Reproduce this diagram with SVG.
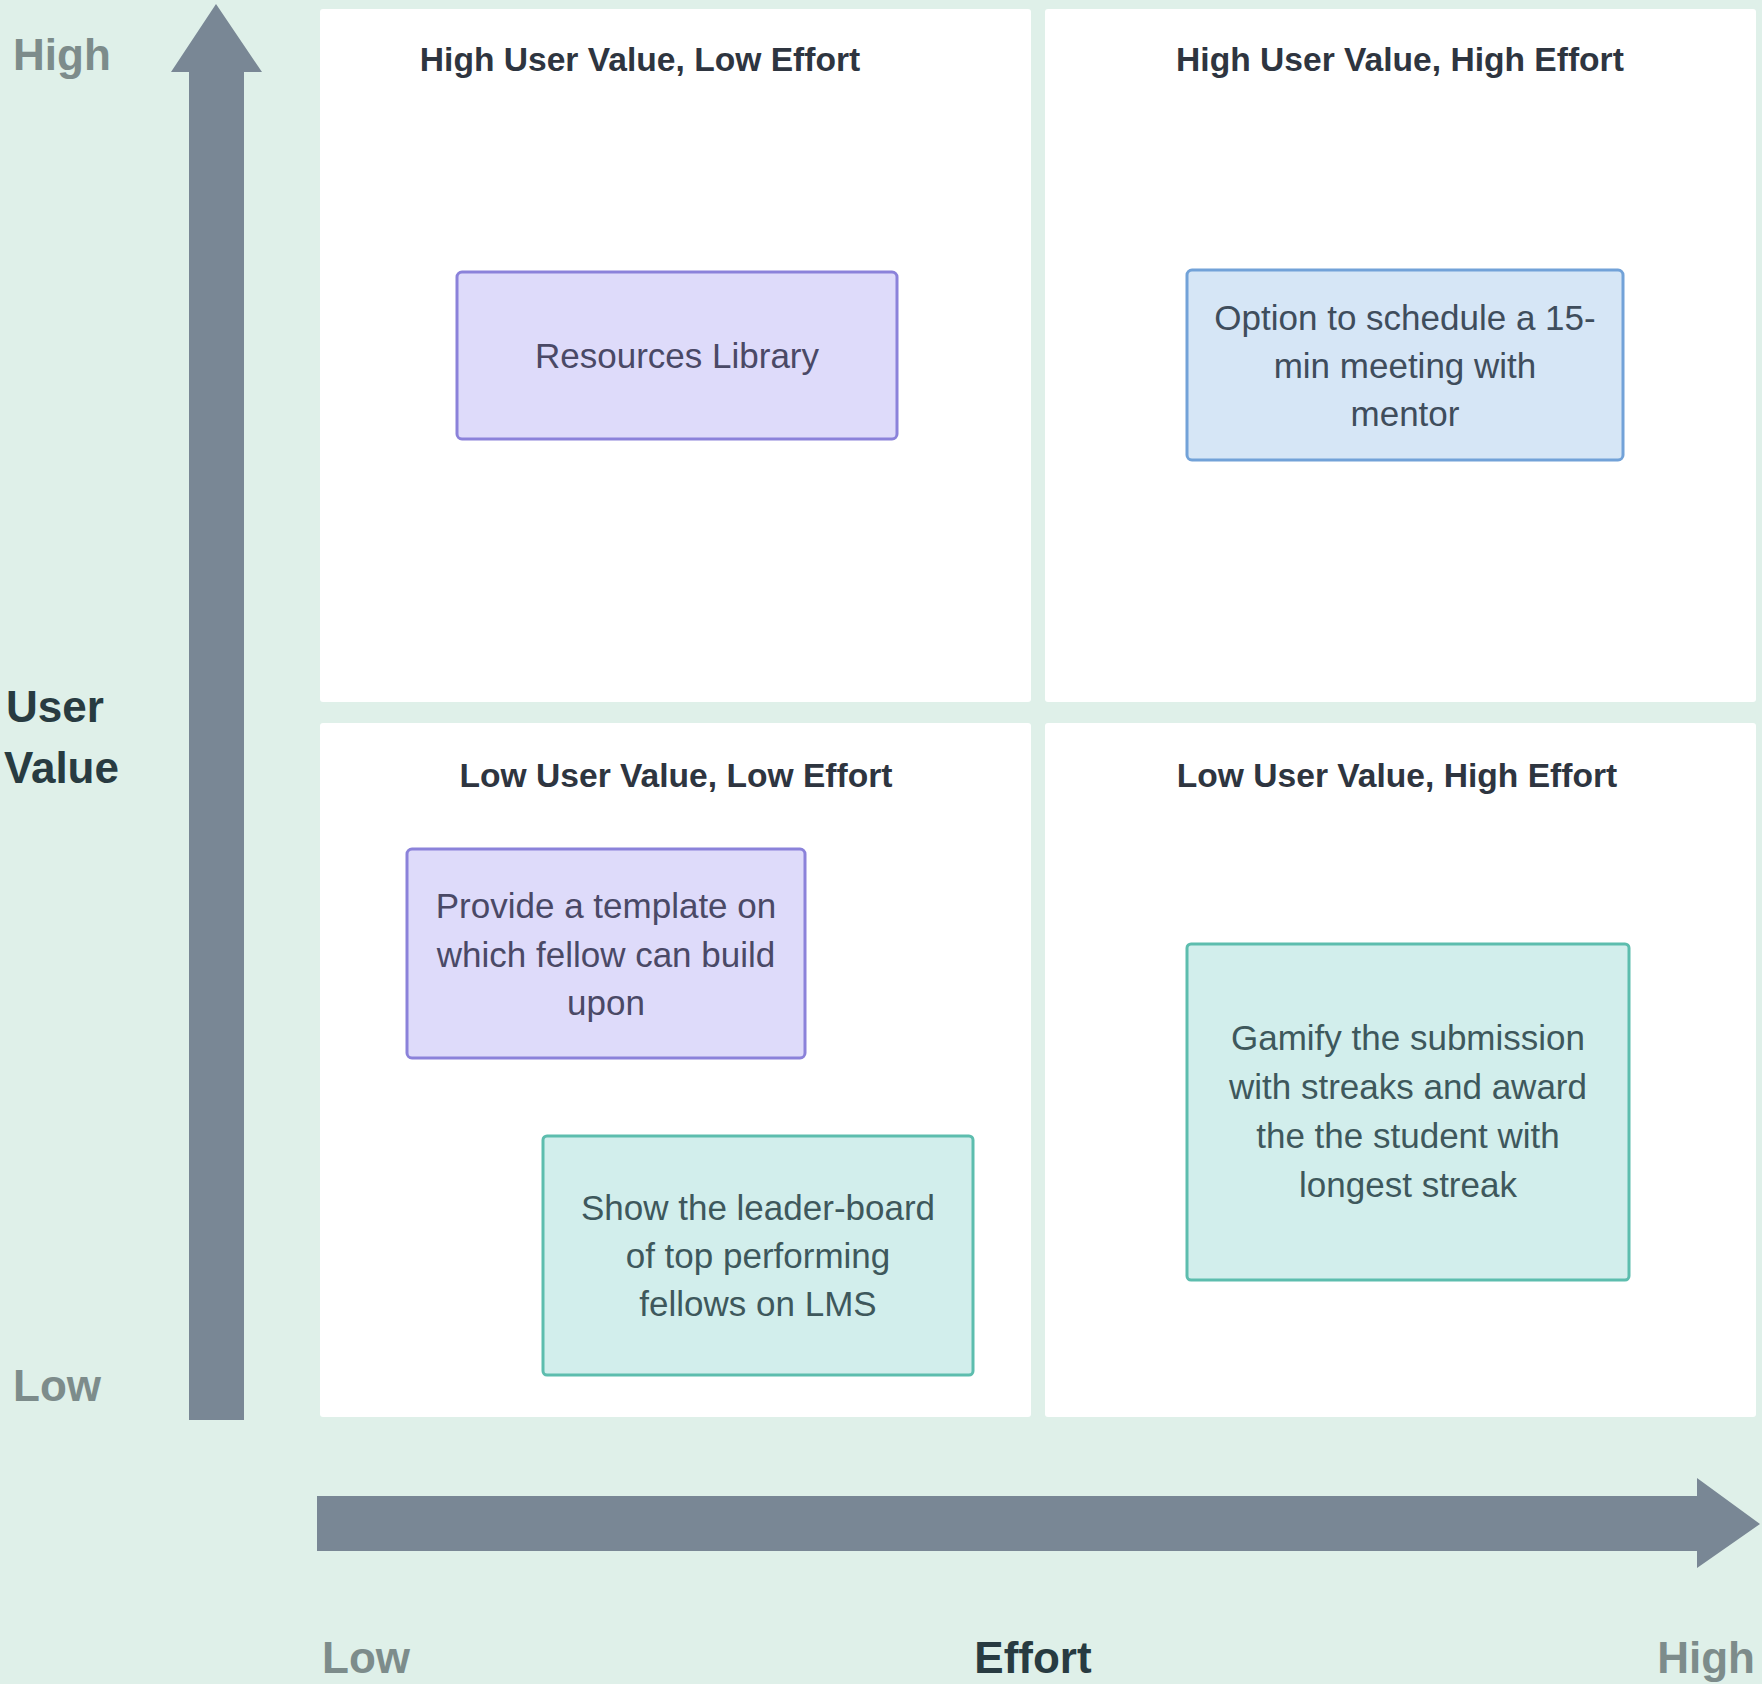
<svg xmlns="http://www.w3.org/2000/svg" width="1762" height="1684" viewBox="0 0 1762 1684">
  <style>
    .axis-lo { font-family: "Liberation Sans", Arial, sans-serif; font-weight: bold; font-size: 44px; fill: #7d8c8b; }
    .axis-title { font-family: "Liberation Sans", Arial, sans-serif; font-weight: bold; font-size: 44px; fill: #283b41; }
    .qtitle { font-family: "Liberation Sans", Arial, sans-serif; font-weight: bold; font-size: 33.6px; fill: #2e3540; text-anchor: middle; }
    .panel { fill: #ffffff; }
    .ntext { font-family: "Liberation Sans", Arial, sans-serif; font-size: 35px; text-anchor: middle; }
    .purple rect { fill: #dedbfa; stroke: #8b82da; stroke-width: 3; }
    .purple text { fill: #4a4966; }
    .blue rect { fill: #d6e6f6; stroke: #72a2d8; stroke-width: 3; }
    .blue text { fill: #3f4d5c; }
    .teal rect { fill: #d2eeec; stroke: #5dbdae; stroke-width: 3; }
    .teal text { fill: #3e585c; }
    .arrow { fill: #798795; }
  </style>
  <rect x="0" y="0" width="1762" height="1684" fill="#dff0e9"/>

  <g id="quadrants">
    <rect id="q-tl" class="panel" x="320" y="9" width="711" height="693" rx="3"/>
    <rect id="q-tr" class="panel" x="1045" y="9" width="711" height="693" rx="3"/>
    <rect id="q-bl" class="panel" x="320" y="723" width="711" height="694" rx="3"/>
    <rect id="q-br" class="panel" x="1045" y="723" width="711" height="694" rx="3"/>
    <text class="qtitle" x="640" y="71">High User Value, Low Effort</text>
    <text class="qtitle" x="1400" y="71">High User Value, High Effort</text>
    <text class="qtitle" x="676" y="787">Low User Value, Low Effort</text>
    <text class="qtitle" x="1397" y="787">Low User Value, High Effort</text>
  </g>

  <g id="axes">
    <path class="arrow" d="M189 1420 L189 72 L171 72 L216 4 L262 72 L244 72 L244 1420 Z"/>
    <path class="arrow" d="M317 1496 L1697 1496 L1697 1478 L1760 1524 L1697 1568 L1697 1551 L317 1551 Z"/>
    <text class="axis-lo" x="13" y="70">High</text>
    <text class="axis-title" x="6" y="722">User</text>
    <text class="axis-title" x="4" y="783">Value</text>
    <text class="axis-lo" x="13" y="1401">Low</text>
    <text class="axis-lo" x="322" y="1673">Low</text>
    <text class="axis-title" x="1033" y="1673" text-anchor="middle">Effort</text>
    <text class="axis-lo" x="1755" y="1673" text-anchor="end">High</text>
  </g>

  <g id="connectors"></g>

  <g id="node-resources" class="purple">
    <rect x="457" y="272" width="440" height="167" rx="5"/>
    <text class="ntext" x="677" y="368">Resources Library</text>
  </g>

  <g id="node-schedule" class="blue">
    <rect x="1187" y="270" width="436" height="190" rx="5"/>
    <text class="ntext" x="1405" y="330">Option to schedule a 15-</text>
    <text class="ntext" x="1405" y="378">min meeting with</text>
    <text class="ntext" x="1405" y="426">mentor</text>
  </g>

  <g id="node-template" class="purple">
    <rect x="407" y="849" width="398" height="209" rx="5"/>
    <text class="ntext" x="606" y="918">Provide a template on</text>
    <text class="ntext" x="606" y="967">which fellow can build</text>
    <text class="ntext" x="606" y="1015">upon</text>
  </g>

  <g id="node-leaderboard" class="teal">
    <rect x="543" y="1136" width="430" height="239" rx="4"/>
    <text class="ntext" x="758" y="1220">Show the leader-board</text>
    <text class="ntext" x="758" y="1268">of top performing</text>
    <text class="ntext" x="758" y="1316">fellows on LMS</text>
  </g>

  <g id="node-gamify" class="teal">
    <rect x="1187" y="944" width="442" height="336" rx="4"/>
    <text class="ntext" x="1408" y="1050">Gamify the submission</text>
    <text class="ntext" x="1408" y="1099">with streaks and award</text>
    <text class="ntext" x="1408" y="1148">the the student with</text>
    <text class="ntext" x="1408" y="1197">longest streak</text>
  </g>
</svg>
